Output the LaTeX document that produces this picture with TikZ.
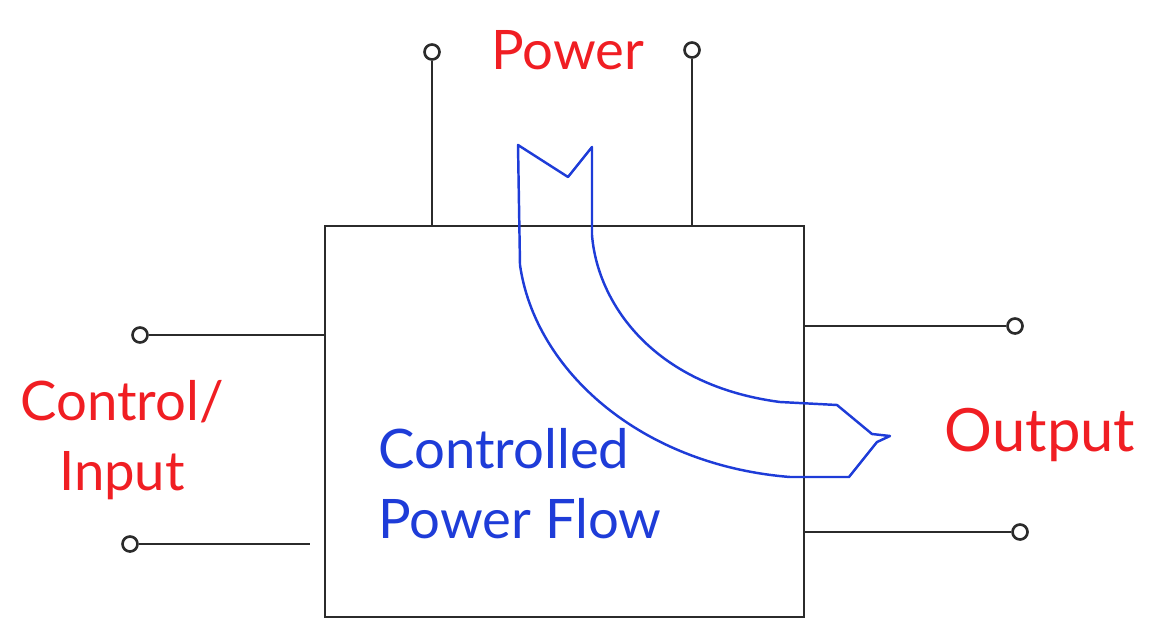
\documentclass[tikz,border=0pt]{standalone}
\usepackage{fontspec}
\setmainfont{Lato}
\usetikzlibrary{calc}
\definecolor{ink}{HTML}{2B2B2B}
\definecolor{pen}{HTML}{F01E23}
\definecolor{flow}{HTML}{1E3CD8}
\tikzset{
  term/.style={circle,draw=ink,line width=1.5pt,inner sep=0pt,minimum size=0.3cm},
  wire/.style={ink,line width=1.6pt},
  hand/.style={font=\fontsize{31}{40}\selectfont,inner sep=0pt},
}

\begin{document}
\begin{tikzpicture}[x=0.2mm,y=-0.2mm]
  \useasboundingbox (0,0) rectangle (1155,623);

  % the controlled block
  \node[draw=ink,line width=1.6pt,inner sep=0pt,
        minimum width=9.58cm,minimum height=7.82cm] (box) at (564.5,421.5) {};

  % power terminals
  \foreach \n/\x/\y in {pa/432/52,pb/692/50}{%
    \node[term] (\n) at (\x,\y) {};
    \draw[wire] (\n) -- (\n |- box.north);}

  % control / input terminals
  \foreach \n/\x/\y/\s in {ca/140/335/0mm,cb/130/544/2.8mm}{%
    \node[term] (\n) at (\x,\y) {};
    \draw[wire,shorten >=\s] (\n) -- (\n -| box.west);}

  % output terminals
  \foreach \n/\x/\y in {oa/1015/326,ob/1020/532}{%
    \node[term] (\n) at (\x,\y) {};
    \draw[wire] (box.east |- \n) -- (\n);}

  % the flow arrow
  \draw[flow,line width=1.4pt,line join=round]
    (568,177) -- (592,147) -- (592,235)
    .. controls (597,300) and (650,385) .. (780,402) -- (837,405)
    -- (872,434) -- (890,436) -- (877,442) -- (849,477) -- (790,477)
    .. controls (640,465) and (535,370) .. (520,265) -- (518,145) -- cycle;

  % labels
  \node[hand,text=pen] (power) at (568,50) {Power};
  \node[hand,text=pen,align=center] (ctrl) at (122,440) {Control/\\Input};
  \node[hand,text=pen,font=\fontsize{34}{40}\selectfont] (out) at (1040,435) {Output};
  \node[hand,text=flow,align=left,anchor=north west] (cpf) at (378,428)
       {Controlled\\Power Flow};
\end{tikzpicture}
\end{document}
